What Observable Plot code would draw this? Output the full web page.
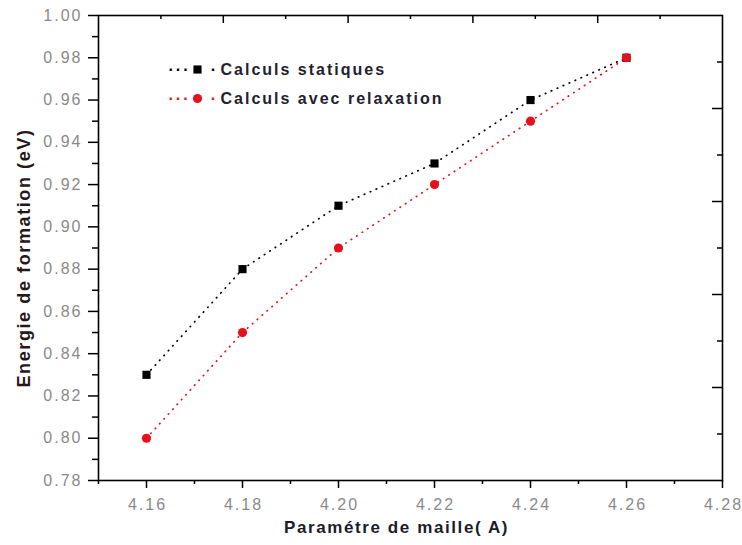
<!DOCTYPE html>
<html>
<head>
<meta charset="utf-8">
<script src="https://cdn.jsdelivr.net/npm/d3@7"></script>
<script src="https://cdn.jsdelivr.net/npm/@observablehq/plot@0.6"></script>
<style>
  html, body { margin: 0; padding: 0; background: #fff; }
  svg { font-family: "Liberation Sans", Arial, sans-serif; }
  .ticklbl text { letter-spacing: 2px; }
  .legtxt text { letter-spacing: 2px; }
  .axlbl text { letter-spacing: 1.6px; }
</style>
</head>
<body>
<div id="chart"></div>
<script>
// ---- data ----
const xValues = [4.16, 4.18, 4.20, 4.22, 4.24, 4.26];
const staticValues = [0.83, 0.88, 0.91, 0.93, 0.96, 0.98];
const relaxValues = [0.80, 0.85, 0.89, 0.92, 0.95, 0.98];
const seriesNames = ["Calculs statiques", "Calculs avec relaxation"];

const xTicksMajor = [4.16, 4.18, 4.20, 4.22, 4.24, 4.26, 4.28];
const xTickLabels = ["4.16", "4.18", "4.20", "4.22", "4.24", "4.26", "4.28"];
const xTicksMinor = [4.15, 4.17, 4.19, 4.21, 4.23, 4.25, 4.27];
const yTicksMajor = [0.78, 0.80, 0.82, 0.84, 0.86, 0.88, 0.90, 0.92, 0.94, 0.96, 0.98, 1.00];
const yTickLabels = ["0.78", "0.80", "0.82", "0.84", "0.86", "0.88", "0.90", "0.92", "0.94", "0.96", "0.98", "1.00"];
const yTicksMinor = [0.79, 0.81, 0.83, 0.85, 0.87, 0.89, 0.91, 0.93, 0.95, 0.97, 0.99];
// mirrored (top / right) axes of the original figure have their own spacing
const topTicksMajor = [4.176, 4.202, 4.228, 4.254];
const topTicksMinor = [4.163, 4.189, 4.215, 4.241, 4.267];
const rightTicksMajor = [0.824, 0.868, 0.912, 0.956];
const rightTicksMinor = [0.802, 0.846, 0.890, 0.934, 0.978];

const xLabel = "Paramétre de maille( A)";
const yLabel = "Energie de formation (eV)";

// ---- layout ----
const W = 742, H = 545;
const mL = 98, mR = 20, mT = 15, mB = 65;
const fw = W - mL - mR, fh = H - mT - mB;
const RED = "#e3121b";

const staticData = xValues.map((x, i) => ({x, y: staticValues[i]}));
const relaxData = xValues.map((x, i) => ({x, y: relaxValues[i]}));
const yLab = yTicksMajor.map((v, i) => ({v, t: yTickLabels[i]}));
const xLab = xTicksMajor.map((v, i) => ({v, t: xTickLabels[i]}));

const legendRows = [
  {name: seriesNames[0], color: "black", symbol: "square", dy: 54},
  {name: seriesNames[1], color: RED, symbol: "circle", dy: 83}
];

function legendMarks(row) {
  const common = {frameAnchor: "top-left", dy: row.dy, lineAnchor: "middle"};
  return [
    Plot.text([row], {...common, text: () => "\u00b7\u00b7\u00b7", dx: 81, fill: row.color, fontSize: 16, fontWeight: "bold", textAnchor: "middle", className: "legtxt"}),
    Plot.text([row], {...common, text: () => "\u00b7", dx: 115, fill: row.color, fontSize: 16, fontWeight: "bold", textAnchor: "middle"}),
    Plot.dot([row], {frameAnchor: "top-left", dx: 99, dy: row.dy, symbol: row.symbol, r: 4.6, fill: row.color, stroke: null}),
    Plot.text([row], {...common, text: "name", dx: 122, textAnchor: "start", fontSize: 16, fontWeight: "bold", fill: "#22222e", className: "legtxt"})
  ];
}

const chart = Plot.plot({
  width: W, height: H,
  marginLeft: mL, marginRight: mR, marginTop: mT, marginBottom: mB,
  x: {domain: [4.15, 4.28], axis: null},
  y: {domain: [0.78, 1.00], axis: null},
  marks: [
    // ticks: left (outward)
    Plot.ruleY(yTicksMajor, {y: d => d, insetLeft: -10, insetRight: fw, stroke: "black", strokeWidth: 1.5}),
    Plot.ruleY(yTicksMinor, {y: d => d, insetLeft: -6, insetRight: fw, stroke: "black", strokeWidth: 1.5}),
    // bottom (outward)
    Plot.ruleX(xTicksMajor, {x: d => d, insetBottom: -8, insetTop: fh, stroke: "black", strokeWidth: 1.5}),
    Plot.ruleX(xTicksMinor, {x: d => d, insetBottom: -4, insetTop: fh, stroke: "black", strokeWidth: 1.5}),
    // top (inward)
    Plot.ruleX(topTicksMajor, {x: d => d, insetBottom: fh - 8, stroke: "black", strokeWidth: 1.5}),
    Plot.ruleX(topTicksMinor, {x: d => d, insetBottom: fh - 4, stroke: "black", strokeWidth: 1.5}),
    // right (inward)
    Plot.ruleY(rightTicksMajor, {y: d => d, insetLeft: fw - 10, stroke: "black", strokeWidth: 1.5}),
    Plot.ruleY(rightTicksMinor, {y: d => d, insetLeft: fw - 5, stroke: "black", strokeWidth: 1.5}),
    Plot.frame({stroke: "black", strokeWidth: 1.6}),
    // tick labels
    Plot.text(yLab, {y: "v", text: "t", frameAnchor: "left", dx: -16, textAnchor: "end", fontSize: 16, fill: "#8a8a8a", className: "ticklbl"}),
    Plot.text(xLab, {x: "v", text: "t", frameAnchor: "bottom", dx: 1, dy: 24, lineAnchor: "middle", textAnchor: "middle", fontSize: 16, fill: "#8a8a8a", className: "ticklbl"}),
    // axis titles
    Plot.text([xLabel], {frameAnchor: "bottom", dx: -14, dy: 47, lineAnchor: "middle", textAnchor: "middle", fontSize: 17, fontWeight: "bold", fill: "#1c1c28", className: "axlbl"}),
    Plot.text([yLabel], {frameAnchor: "left", dx: -74, dy: 10, rotate: -90, lineAnchor: "middle", textAnchor: "middle", fontSize: 18, fontWeight: "bold", fill: "#241818", className: "axlbl"}),
    // series
    Plot.line(staticData, {x: "x", y: "y", stroke: "black", strokeWidth: 1.7, strokeDasharray: "0.5,6", strokeLinecap: "round"}),
    Plot.line(relaxData, {x: "x", y: "y", stroke: RED, strokeWidth: 1.7, strokeDasharray: "0.5,6", strokeLinecap: "round"}),
    Plot.dot(staticData, {x: "x", y: "y", symbol: "square", r: 4.6, fill: "black", stroke: null}),
    Plot.dot(relaxData, {x: "x", y: "y", symbol: "circle", r: 4.6, fill: RED, stroke: null}),
    // legend
    ...legendMarks(legendRows[0]),
    ...legendMarks(legendRows[1])
  ]
});
document.getElementById("chart").appendChild(chart);
</script>
</body>
</html>
